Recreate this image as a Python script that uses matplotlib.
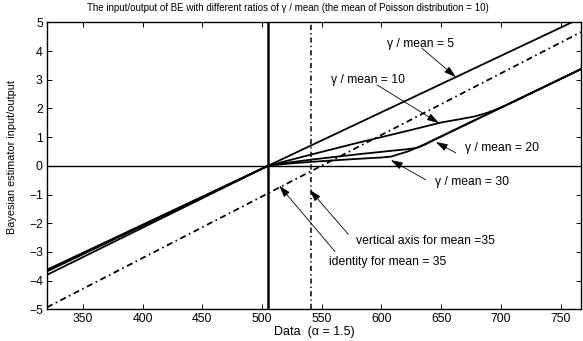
import matplotlib
matplotlib.use("Agg")
import matplotlib.pyplot as plt

plt.rcParams['font.family'] = ['Liberation Sans', 'DejaVu Sans']

# ---- data ----
x_g5 = [320, 505, 767]
y_g5 = [-3.62, 0.0, 5.15]

x_g10 = [320, 505, 540, 580, 620, 650, 665, 678, 688, 697, 705, 767]
y_g10 = [-3.65, 0.0, 0.38, 0.80, 1.20, 1.51, 1.62, 1.72, 1.84, 1.98, 2.12, 3.37]

x_g20 = [320, 505, 520, 542, 580, 610, 622, 629, 636, 645, 767]
y_g20 = [-3.68, 0.0, 0.10, 0.22, 0.40, 0.53, 0.58, 0.62, 0.73, 0.92, 3.37]

x_g30 = [320, 505, 520, 542, 575, 600, 608, 615, 622, 632, 767]
y_g30 = [-3.80, 0.0, 0.07, 0.14, 0.23, 0.29, 0.32, 0.41, 0.50, 0.67, 3.37]

x_identity = [320, 767]
y_identity = [-4.93, 4.66]

vline_mean = 505      # solid vertical axis
vline_mean35 = 541    # dash-dot vertical axis for mean = 35

labels = ["\u03b3 / mean = 5", "\u03b3 / mean = 10", "\u03b3 / mean = 20",
          "\u03b3 / mean = 30", "vertical axis for mean =35", "identity for mean = 35"]
label_pos = [(604.6, 4.24), (557.8, 2.99), (669.9, 0.62), (644.8, -0.56),
             (578.7, -2.61), (556.1, -3.36)]
arrow_tail = [(633.8, 4.10), (596.2, 2.82), (662.2, 0.45), (637.1, -0.49),
              (572.3, -2.39), (561.1, -2.99)]
arrow_tip = [(662.2, 3.09), (648.0, 1.49), (645.5, 0.83), (607.9, 0.20),
             (540.0, -0.84), (514.4, -0.69)]

xticks = [350, 400, 450, 500, 550, 600, 650, 700, 750]
yticks = [-5, -4, -3, -2, -1, 0, 1, 2, 3, 4, 5]

# ---- figure ----
fig = plt.figure(figsize=(5.83, 3.41), dpi=100)
ax = fig.add_axes([47/583, 1 - 309.3/341, (581 - 47)/583, (309.3 - 22.3)/341])

dd = (0, (3.4, 2.0, 0.9, 2.0))
ax.axhline(0, color='k', lw=1.0)
ax.axvline(vline_mean, color='k', lw=1.8)
ax.axvline(vline_mean35, color='k', lw=1.1, linestyle=dd)
ax.plot(x_identity, y_identity, color='k', lw=1.3, linestyle=dd)

for xs, ys in [(x_g5, y_g5), (x_g10, y_g10), (x_g20, y_g20), (x_g30, y_g30)]:
    ax.plot(xs, ys, color='k', lw=1.3, solid_joinstyle='round')

for lab, pos, tail, tip in zip(labels, label_pos, arrow_tail, arrow_tip):
    ax.text(pos[0], pos[1], lab, fontsize=8.7, ha='left', va='center')
    ax.annotate('', xy=tip, xytext=tail,
                arrowprops=dict(arrowstyle='-|>,head_length=0.8,head_width=0.25',
                                color='k', lw=0.6, mutation_scale=9,
                                shrinkA=0, shrinkB=0))

ax.set_xlim(320, 767)
ax.set_ylim(-5, 5)
ax.set_xticks(xticks)
ax.set_yticks(yticks)
ax.tick_params(direction='in', length=3.5, width=0.7, top=True, right=True,
               labelsize=8.8, pad=3)
for s in ax.spines.values():
    s.set_linewidth(1.0)

fig.text(314/583, 1 - 332/341, "Data  (\u03b1 = 1.5)", fontsize=9,
         ha='center', va='center')
fig.text(12/583, 1 - 157/341, "Bayesian estimator input/output", fontsize=7.8,
         ha='center', va='center', rotation=90)
fig.text(288/583, 1 - 8/341,
         "The input/output of BE with different ratios of \u03b3 / mean (the mean of Poisson distribution = 10)",
         fontsize=7.0, ha='center', va='center')

fig.savefig("out.png", dpi=100)
